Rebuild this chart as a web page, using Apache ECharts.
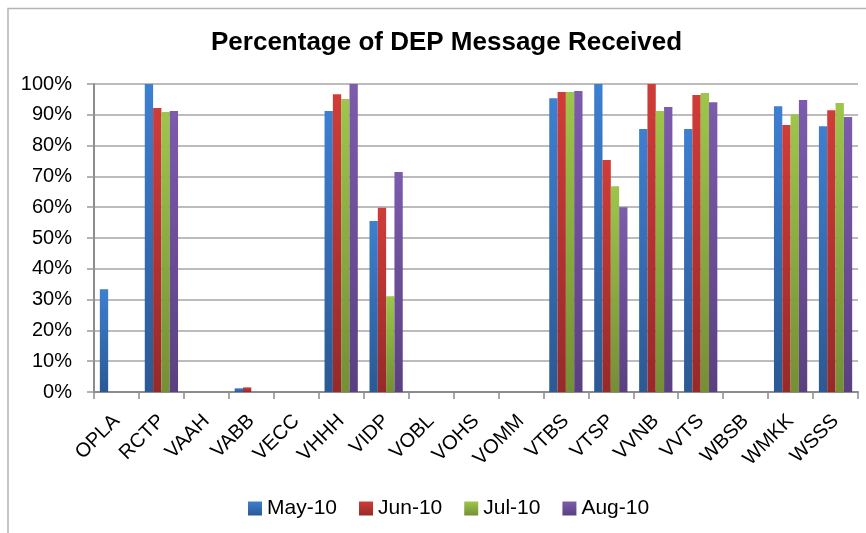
<!DOCTYPE html>
<html>
<head>
<meta charset="utf-8">
<script src="https://cdn.jsdelivr.net/npm/echarts@6/dist/echarts.min.js"></script>
<style>
  html, body { margin: 0; padding: 0; background: #fff; }
  #chart { width: 866px; height: 533px; }
</style>
</head>
<body>
<div id="chart"></div>
<script>
const stations = ["OPLA", "RCTP", "VAAH", "VABB", "VECC", "VHHH", "VIDP", "VOBL", "VOHS",
  "VOMM", "VTBS", "VTSP", "VVNB", "VVTS", "WBSB", "WMKK", "WSSS"];
const yTicks = [0, 10, 20, 30, 40, 50, 60, 70, 80, 90, 100];

// percent received per month
const may10 = [33.4, 100, 0, 1.2, 0, 91.2, 55.5, 0, 0, 0, 95.4, 100, 85.4, 85.4, 0, 92.8, 86.3];
const jun10 = [0, 92.2, 0, 1.5, 0, 96.7, 59.8, 0, 0, 0, 97.4, 75.3, 100, 96.4, 0, 86.7, 91.5];
const jul10 = [0, 90.9, 0, 0, 0, 95.1, 31.1, 0, 0, 0, 97.4, 66.8, 91.2, 97.1, 0, 90.2, 93.8];
const aug10 = [0, 91.2, 0, 0, 0, 100, 71.4, 0, 0, 0, 97.7, 60.0, 92.5, 94.1, 0, 94.8, 89.3];

const seriesNames = ["May-10", "Jun-10", "Jul-10", "Aug-10"];
const seriesData = [may10, jun10, jul10, aug10];
const colors = [
  ["#3d7fd1", "#2b5993"],
  ["#d03c38", "#962a29"],
  ["#9dc64a", "#758f35"],
  ["#7d5bad", "#5a4080"],
];

const font = "'Liberation Sans', Arial, sans-serif";

const chart = echarts.init(document.getElementById("chart"));
chart.setOption({
  animation: false,
  color: colors.map((c) => c[0]),
  title: {
    text: "Percentage of DEP Message Received",
    left: 206,
    top: 25,
    textStyle: { fontFamily: font, fontSize: 26, fontWeight: "bold", color: "#000" },
  },
  graphic: [
    {
      type: "rect",
      shape: { x: 8, y: 8.5, width: 900, height: 600 },
      style: { fill: "none", stroke: "#b4b4b4", lineWidth: 1.5 },
      silent: true,
    },
  ],
  legend: {
    bottom: 9,
    left: 243,
    itemWidth: 14,
    itemHeight: 14,
    itemGap: 22,
    icon: "rect",
    textStyle: { fontFamily: font, fontSize: 21, color: "#000" },
    data: seriesNames,
  },
  grid: { left: 94, right: 8, top: 84, bottom: 141 },
  xAxis: {
    type: "category",
    data: stations,
    axisLine: { lineStyle: { color: "#8c8c8c", width: 2 } },
    axisTick: { show: true, length: 7, lineStyle: { color: "#8c8c8c", width: 1.5 } },
    axisLabel: { rotate: 45, margin: 26, fontFamily: font, fontSize: 20, color: "#000", interval: 0 },
  },
  yAxis: {
    type: "value",
    min: 0,
    max: 100,
    interval: 10,
    axisLine: { show: true, lineStyle: { color: "#8c8c8c", width: 2 } },
    axisTick: { show: true, length: 7, lineStyle: { color: "#9a9a9a", width: 1.5 } },
    splitLine: { lineStyle: { color: "#a6a6a6", width: 1.5 } },
    axisLabel: {
      margin: 22,
      fontFamily: font,
      fontSize: 20,
      color: "#000",
      formatter: (v) => (yTicks.includes(v) ? v + "%" : ""),
    },
  },
  series: seriesData.map((d, i) => ({
    name: seriesNames[i],
    type: "bar",
    data: d,
    barGap: "0%",
    barCategoryGap: "26%",
    itemStyle: {
      color: new echarts.graphic.LinearGradient(0, 0, 0, 1, [
        { offset: 0, color: colors[i][0] },
        { offset: 1, color: colors[i][1] },
      ]),
    },
  })),
});
</script>
</body>
</html>
